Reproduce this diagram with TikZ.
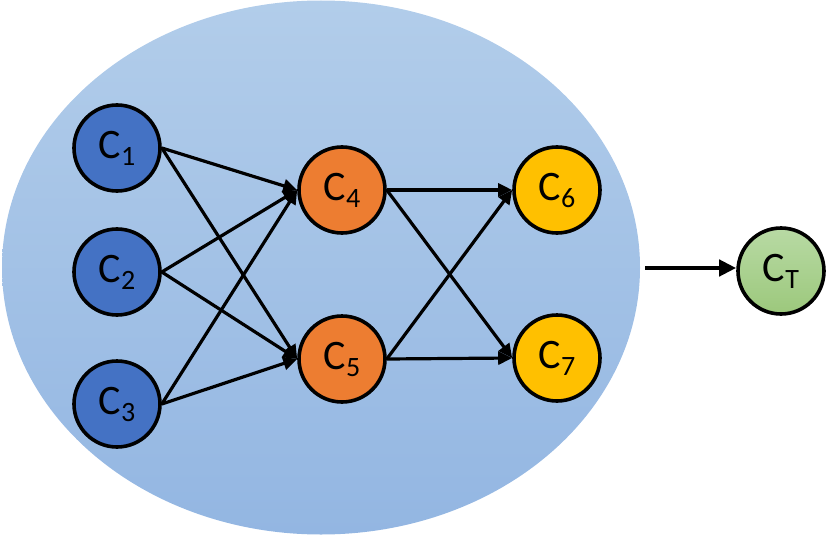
\documentclass[tikz,border=0pt]{standalone}
\usepackage{fontspec}
\setmainfont{Carlito}
\usetikzlibrary{arrows.meta}
\definecolor{cblue}{RGB}{68,114,196}
\definecolor{corange}{RGB}{237,125,49}
\definecolor{cgold}{RGB}{255,192,0}
\definecolor{bgtop}{RGB}{178,205,234}
\definecolor{bgbot}{RGB}{147,182,226}
\definecolor{gtop}{RGB}{184,218,164}
\definecolor{gbot}{RGB}{156,200,124}
\newcommand{\lab}[1]{C\raisebox{-7pt}{\fontsize{28}{28}\selectfont #1}}
\begin{document}
\begin{tikzpicture}[x=1pt,y=-1pt,
        cnode/.style={circle,draw=black,line width=3.6pt,minimum size=86pt,inner sep=0pt,
            font=\fontsize{42}{44}\selectfont},
        edge/.style={line width=3.2pt,-{Triangle[length=14pt,width=13pt]}}]
        \useasboundingbox (0,0) rectangle (830,535);
        \shade[top color=bgtop,bottom color=bgbot] (321,267.5) ellipse (319 and 267);
        \node[cnode,fill=cblue] (c1) at (117,148) {\lab{1}};
        \node[cnode,fill=cblue] (c2) at (117,272) {\lab{2}};
        \node[cnode,fill=cblue] (c3) at (117,404) {\lab{3}};
        \node[cnode,fill=corange] (c4) at (342,190) {\lab{4}};
        \node[cnode,fill=corange] (c5) at (342,359) {\lab{5}};
        \node[cnode,fill=cgold] (c6) at (557,190) {\lab{6}};
        \node[cnode,fill=cgold] (c7) at (557,358) {\lab{7}};
        \node[cnode,top color=gtop,bottom color=gbot] (ct) at (781,271) {\lab{T}};
        \coordinate (out) at (645,268);
        \foreach \a in {c1,c2,c3}
            \foreach \b in {c4,c5}
                \draw[edge] (\a.east) -- (\b.west);
        \foreach \a in {c4,c5}
            \foreach \b in {c6,c7}
                \draw[edge] (\a.east) -- (\b.west);
        \draw[line width=4.6pt,-{Triangle[length=17pt,width=16pt]}] (out) -- (ct.west |- out);
\end{tikzpicture}
\end{document}
